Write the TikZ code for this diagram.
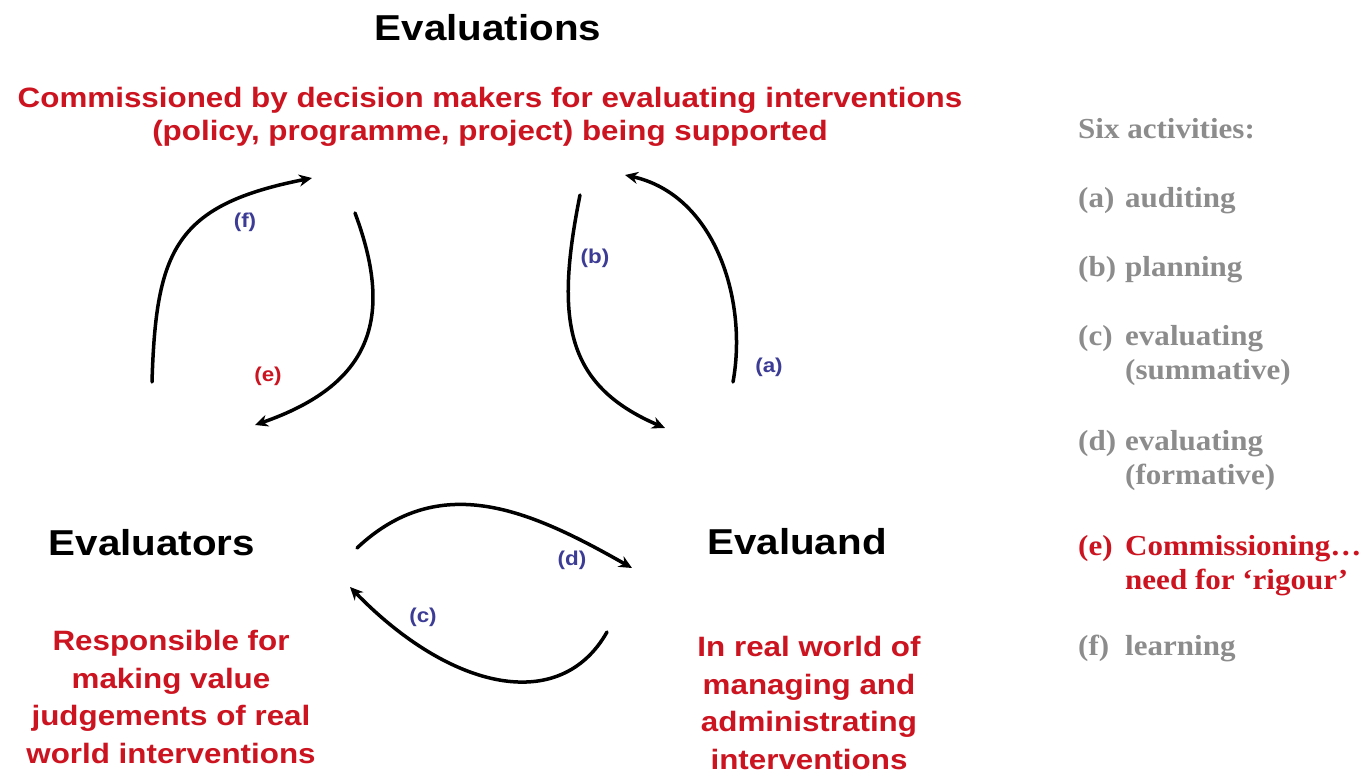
\documentclass[tikz,border=0pt]{standalone}
\usepackage{fontspec}
\usetikzlibrary{arrows.meta}
\newfontfamily\sansw[FakeStretch=1.12]{Liberation Sans}
\newfontfamily\serifw[FakeStretch=1.07]{Liberation Serif}
\definecolor{evred}{RGB}{204,20,32}
\definecolor{evblue}{RGB}{60,60,150}
\definecolor{evgray}{RGB}{140,140,140}
\begin{document}
\begin{tikzpicture}[x=1pt,y=-1pt,
  head/.style={font=\sansw\bfseries\fontsize{36}{40}\selectfont, text=black, inner sep=0pt},
  redtxt/.style={font=\sansw\bfseries\fontsize{28}{33}\selectfont, text=evred, align=center, inner sep=0pt},
  redblk/.style={font=\sansw\bfseries\fontsize{28}{37.5}\selectfont, text=evred, align=center, inner sep=0pt},
  lbl/.style={font=\sansw\bfseries\fontsize{20}{24}\selectfont, text=evblue, inner sep=0pt},
  act/.style={font=\serifw\bfseries\fontsize{29}{34}\selectfont, text=evgray, anchor=base west, align=left, inner sep=0pt},
  flow/.style={line width=3.5pt, -{Stealth[length=13pt,width=12pt]}, line cap=round}
]
\useasboundingbox (0,0) rectangle (1368,775);
% headings
\node[head] (evs) at (488,28) {Evaluations};
\node[redtxt] (comm) at (490,117) {Commissioned by decision makers for evaluating interventions\\(policy, programme, project) being supported};
\node[head] (evr) at (152,543) {Evaluators};
\node[head] (evd) at (797,542) {Evaluand};
\node[redblk] (resp) at (171,697) {Responsible for\\making value\\judgements of real\\world interventions};
\node[redblk] (real) at (809,703) {In real world of\\managing and\\administrating\\interventions};
% arrow ends
\coordinate (f0) at (152,382); \coordinate (f1) at (312,178);
\coordinate (e0) at (355,213); \coordinate (e1) at (255,425);
\coordinate (b0) at (580,195); \coordinate (b1) at (665,428);
\coordinate (a0) at (733,382); \coordinate (a1) at (625,175);
\coordinate (d0) at (357,548); \coordinate (d1) at (632,568);
\coordinate (c0) at (607,632); \coordinate (c1) at (350,587);
\draw[flow] (f0) .. controls (156,250) and (175,205) .. (f1);
\draw[flow] (e0) .. controls (395,320) and (370,385) .. (e1);
\draw[flow] (b0) .. controls (555,320) and (565,385) .. (b1);
\draw[flow] (a0) .. controls (748,300) and (715,195) .. (a1);
\draw[flow] (d0) .. controls (440,470) and (530,510) .. (d1);
\draw[flow] (c0) .. controls (560,715) and (450,690) .. (c1);
% labels
\node[lbl] (lf) at (245,222) {(f)};
\node[lbl] (lb) at (595,258) {(b)};
\node[lbl, text=evred] (le) at (268,376) {(e)};
\node[lbl] (la) at (769,367) {(a)};
\node[lbl] (ld) at (572,560) {(d)};
\node[lbl] (lc) at (423,617) {(c)};
% activities (base = last line's baseline)
\node[act] (six) at (1078,139) {Six activities:};
\node[act] (acta) at (1078,208) {\makebox[47pt][l]{(a)}auditing};
\node[act] (actb) at (1078,277) {\makebox[47pt][l]{(b)}planning};
\node[act] (actc) at (1078,380) {\makebox[47pt][l]{(c)}evaluating\\\hspace*{47pt}(summative)};
\node[act] (actd) at (1078,484) {\makebox[47pt][l]{(d)}evaluating\\\hspace*{47pt}(formative)};
\node[act, text=evred] (acte) at (1078,589) {\makebox[47pt][l]{(e)}Commissioning…\\\hspace*{47pt}need for ‘rigour’};
\node[act] (actf) at (1078,655) {\makebox[47pt][l]{(f)}learning};
\end{tikzpicture}
\end{document}
